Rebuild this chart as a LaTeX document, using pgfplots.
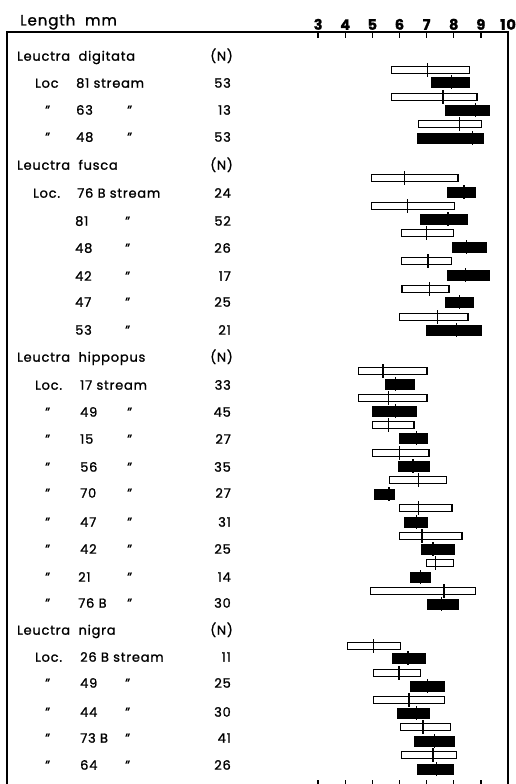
\documentclass[border=0pt]{standalone}
\usepackage{fontspec}
\setmainfont[LetterSpace=6, FakeBold=1.2]{Poppins}
\usepackage{pgfplots}
\pgfplotsset{compat=1.18}
\usepgfplotslibrary{statistics}

\newcommand{\tf}{\fontsize{13}{13}\selectfont}
\newcommand{\openbar}[4]{\addplot[draw=black, fill=white, line width=1.3pt, boxplot prepared={draw position=#1, lower whisker=#2, lower quartile=#2, median=#3, upper quartile=#4, upper whisker=#4, box extend=7.5, whisker extend=0}] coordinates {};}
\newcommand{\solidbar}[4]{\addplot[draw=black, fill=black, line width=1.0pt, boxplot prepared={draw position=#1, lower whisker=#2, lower quartile=#2, median=#3, upper quartile=#4, upper whisker=#4, box extend=10, whisker extend=0}] coordinates {};}
\newcommand{\TL}[3]{\node[font=\tf, anchor=base west, inner sep=0pt, yshift=-4.7pt] at (#1,#2) {#3};}
\newcommand{\TR}[3]{\node[font=\tf, anchor=base east, inner sep=0pt, yshift=-4.7pt] at (#1,#2) {#3};}
\newcommand{\DT}{”}
\newcommand{\WS}{\hspace{0.65em}}

\begin{document}
\begin{tikzpicture}
\begin{axis}[
  at={(7pt,-32pt)}, anchor=north west,
  scale only axis, width=501pt, height=754pt,
  xmin=-8.466, xmax=10, ymin=32, ymax=786, y dir=reverse,
  xtick={3,4,5,6,7,8,9,10}, ytick=\empty,
  xtick pos=both, xticklabel pos=upper,
  tick align=inside, major tick length=6pt,
  axis line style={line width=1.3pt},
  every tick/.style={line width=1.3pt, black},
  xticklabel style={font=\fontsize{14.5}{14.5}\selectfont\bfseries, inner sep=2pt},
  /pgf/number format/assume math mode=true,
  clip=false,
]
% Leuctra digitata
\openbar{70}{5.70}{7.03}{8.59}
\solidbar{82}{7.18}{7.91}{8.59}
\openbar{97}{5.70}{7.60}{8.86}
\solidbar{110}{7.69}{8.81}{9.32}
\openbar{124}{6.71}{8.22}{9.02}
\solidbar{138}{6.66}{8.69}{9.10}
% Leuctra fusca
\openbar{178}{4.97}{6.19}{8.16}
\solidbar{192}{7.77}{8.38}{8.80}
\openbar{206}{4.97}{6.29}{8.04}
\solidbar{219}{6.78}{7.79}{8.52}
\openbar{233}{6.07}{6.99}{8.00}
\solidbar{247}{7.97}{8.47}{9.22}
\openbar{261}{6.07}{7.05}{7.91}
\solidbar{275}{7.77}{8.43}{9.30}
\openbar{289}{6.09}{7.11}{7.83}
\solidbar{302}{7.69}{8.22}{8.71}
\openbar{317}{6.01}{7.40}{8.52}
\solidbar{330}{6.99}{8.10}{9.02}
% Leuctra hippopus
\openbar{371}{4.50}{5.39}{7.01}
\solidbar{384}{5.49}{5.85}{6.56}
\openbar{398}{4.50}{5.60}{7.01}
\solidbar{411}{5.00}{5.85}{6.62}
\openbar{425}{5.00}{5.60}{6.54}
\solidbar{438}{6.01}{6.62}{7.05}
\openbar{453}{5.00}{6.01}{7.09}
\solidbar{466}{5.98}{6.50}{7.11}
\openbar{480}{5.62}{6.71}{7.73}
\solidbar{494}{5.09}{5.62}{5.83}
\openbar{508}{6.01}{6.71}{7.94}
\solidbar{522}{6.20}{6.62}{7.03}
\openbar{536}{6.01}{6.83}{8.30}
\solidbar{549}{6.81}{7.24}{8.04}
\openbar{563}{6.99}{7.32}{8.00}
\solidbar{577}{6.41}{6.77}{7.14}
\openbar{591}{4.94}{7.64}{8.81}
\solidbar{604}{7.03}{7.55}{8.16}
% Leuctra nigra
\openbar{646}{4.08}{5.05}{6.05}
\solidbar{658}{5.73}{6.31}{6.97}
\openbar{673}{5.05}{5.98}{6.77}
\solidbar{686}{6.41}{7.03}{7.67}
\openbar{700}{5.05}{6.35}{7.67}
\solidbar{713}{5.92}{6.62}{7.09}
\openbar{727}{6.05}{6.87}{7.89}
\solidbar{741}{6.56}{7.30}{8.01}
\openbar{755}{6.07}{7.24}{8.10}
\solidbar{769}{6.65}{7.36}{8.00}
% mean ticks
\addplot[only marks, mark=|, mark size=7pt, mark options={line width=1.4pt, black}] coordinates {
(7.03,70) (7.91,82) (7.60,97) (8.81,110) (8.22,124) (8.69,138)
(6.19,178) (8.38,192) (6.29,206) (7.79,219) (6.99,233) (8.47,247)
(7.05,261) (8.43,275) (7.11,289) (8.22,302) (7.40,317) (8.10,330)
(5.39,371) (5.85,384) (5.60,398) (5.85,411) (5.60,425) (6.62,438)
(6.01,453) (6.50,466) (6.71,480) (5.62,494) (6.71,508) (6.62,522)
(6.83,536) (7.24,549) (7.32,563) (6.77,577) (7.64,591) (7.55,604)
(5.05,646) (6.31,658) (5.98,673) (7.03,686) (6.35,700) (6.62,713)
(6.87,727) (7.30,741) (7.24,755) (7.36,769)
};
\end{axis}
\begin{scope}[x=1pt,y=-1pt]
\node[font=\fontsize{15}{15}\selectfont, anchor=base west, inner sep=0pt] at (20,25.5) {Length\ \ mm};
% digitata
\TL{17}{56}{Leuctra\WS digitata} \TR{233}{56}{(N)}
\TL{35}{83}{Loc} \TL{76}{83}{81 stream} \TR{231}{83}{53}
\TL{45}{110}{\DT} \TL{76}{110}{63} \TL{127}{110}{\DT} \TR{231}{110}{13}
\TL{45}{137}{\DT} \TL{76}{137}{48} \TL{127}{137}{\DT} \TR{231}{137}{53}
% fusca
\TL{17}{165}{Leuctra\WS fusca} \TR{233}{165}{(N)}
\TL{33}{193}{Loc.} \TL{77}{193}{76 B stream} \TR{231}{193}{24}
\TL{75}{221}{81} \TL{125}{221}{\DT} \TR{231}{221}{52}
\TL{75}{248}{48} \TL{125}{248}{\DT} \TR{231}{248}{26}
\TL{75}{276}{42} \TL{125}{276}{\DT} \TR{231}{276}{17}
\TL{75}{302}{47} \TL{125}{302}{\DT} \TR{231}{302}{25}
\TL{75}{330}{53} \TL{125}{330}{\DT} \TR{231}{330}{21}
% hippopus
\TL{17}{357}{Leuctra\WS hippopus} \TR{233}{357}{(N)}
\TL{35}{385}{Loc.} \TL{80}{385}{17 stream} \TR{231}{385}{33}
\TL{45}{412}{\DT} \TL{80}{412}{49} \TL{127}{412}{\DT} \TR{231}{412}{45}
\TL{45}{439}{\DT} \TL{80}{439}{15} \TL{127}{439}{\DT} \TR{231}{439}{27}
\TL{45}{467}{\DT} \TL{80}{467}{56} \TL{127}{467}{\DT} \TR{231}{467}{35}
\TL{45}{493}{\DT} \TL{80}{493}{70} \TL{127}{493}{\DT} \TR{231}{493}{27}
\TL{45}{522}{\DT} \TL{80}{522}{47} \TL{127}{522}{\DT} \TR{231}{522}{31}
\TL{45}{549}{\DT} \TL{80}{549}{42} \TL{127}{549}{\DT} \TR{231}{549}{25}
\TL{45}{577}{\DT} \TL{78}{577}{21} \TL{127}{577}{\DT} \TR{231}{577}{14}
\TL{45}{603}{\DT} \TL{78}{603}{76 B} \TL{127}{603}{\DT} \TR{231}{603}{30}
% nigra
\TL{17}{630}{Leuctra\WS nigra} \TR{233}{630}{(N)}
\TL{35}{657}{Loc.} \TL{80}{657}{26 B stream} \TR{231}{657}{11}
\TL{45}{683}{\DT} \TL{80}{683}{49} \TL{125}{683}{\DT} \TR{231}{683}{25}
\TL{45}{712}{\DT} \TL{80}{712}{44} \TL{125}{712}{\DT} \TR{231}{712}{30}
\TL{45}{738}{\DT} \TL{80}{738}{73 B} \TL{125}{738}{\DT} \TR{231}{738}{41}
\TL{45}{765}{\DT} \TL{80}{765}{64} \TL{125}{765}{\DT} \TR{231}{765}{26}
\end{scope}
\pgfresetboundingbox
\path[use as bounding box] (0pt,0pt) rectangle (515pt,-784pt);
\end{tikzpicture}
\end{document}
